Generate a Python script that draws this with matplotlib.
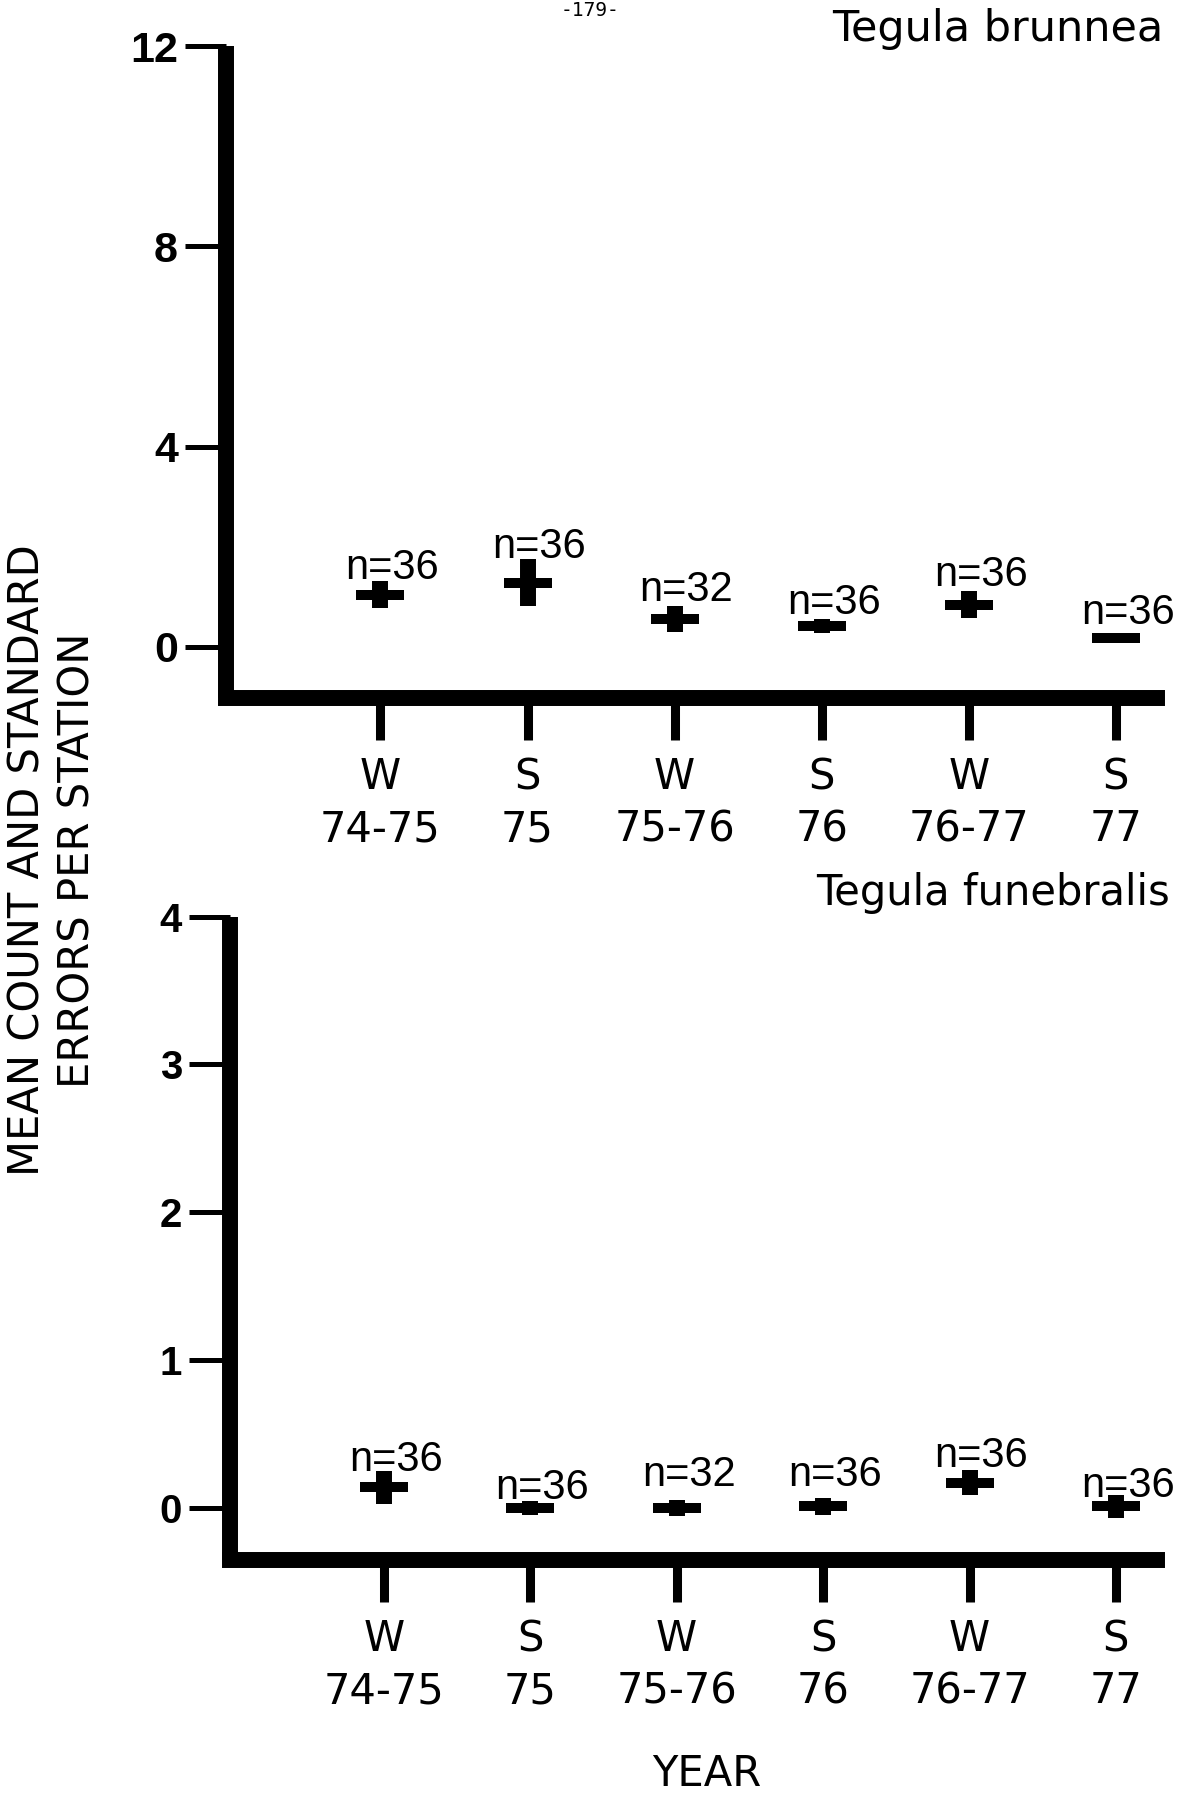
import matplotlib
matplotlib.use("Agg")
import matplotlib.pyplot as plt

# Sampling periods (winter / summer)
seasons = ["W\n74-75", "S\n75", "W\n75-76", "S\n76", "W\n76-77", "S\n77"]

# Tegula brunnea: mean count per station and standard error
brunnea_mean = [1.04, 1.28, 0.55, 0.42, 0.84, 0.18]
brunnea_se = [0.27, 0.47, 0.26, 0.14, 0.27, 0.08]
brunnea_n = [36, 36, 32, 36, 36, 36]

# Tegula funebralis: mean count per station and standard error
funebralis_mean = [0.14, 0.00, 0.00, 0.01, 0.17, 0.01]
funebralis_se = [0.11, 0.05, 0.055, 0.06, 0.085, 0.075]
funebralis_n = [36, 36, 32, 36, 36, 36]

W, H = 1188, 1796
fig = plt.figure(figsize=(W / 100, H / 100), dpi=100)

SANS = "DejaVu Sans"
HELV = "Liberation Sans"


def px_box(left, right, top, bottom):
    """Axes rectangle from pixel edges (top-left origin)."""
    return [left / W, 1 - bottom / H, (right - left) / W, (bottom - top) / H]


def draw_panel(ax, means, ses, ns, ylim, yticks, lifts, ytick_size):
    x = list(range(len(means)))
    ax.errorbar(x, means, yerr=ses, fmt="none", ecolor="black",
                elinewidth=11.5, capsize=0, zorder=3)
    ax.plot(x, means, linestyle="none", marker="_", markersize=35,
            markeredgewidth=7.2, color="black", zorder=4)
    for xi, m, s, n, lift in zip(x, means, ses, ns, lifts):
        ax.annotate(f"n={n}", xy=(xi, m + s), xytext=(12, lift),
                    textcoords="offset pixels", ha="center", va="baseline",
                    fontsize=30, family=HELV)

    ax.set_xlim(-1.05, 5.28)
    ax.set_ylim(*ylim)
    ax.set_xticks(x)
    ax.set_xticklabels(seasons, fontsize=30, family=SANS)
    for lbl in ax.get_xticklabels():
        lbl.set_linespacing(1.3)
    ax.set_yticks(yticks)
    ax.set_yticklabels([str(t) for t in yticks], fontsize=ytick_size,
                       family=HELV, fontweight="bold")

    ax.tick_params(axis="x", direction="out", length=30, width=6.5, pad=12)
    ax.tick_params(axis="y", direction="out", length=29.5, width=3.6, pad=5)

    for side in ("top", "right"):
        ax.spines[side].set_visible(False)
    for side in ("left", "bottom"):
        ax.spines[side].set_linewidth(11.5)
    # the bottom bar closes the corner; the left bar stops at the top tick
    ax.spines["left"].set_capstyle("butt")
    ax.spines["bottom"].set_capstyle("projecting")
    ax.patch.set_visible(False)


ax_top = fig.add_axes(px_box(226, 1157, 46, 698))
draw_panel(ax_top, brunnea_mean, brunnea_se, brunnea_n,
           (-1.02, 12), [0, 4, 8, 12], [2, 1, 5, 5, 5, 10], 31)

ax_bot = fig.add_axes(px_box(230, 1157, 916.5, 1560))
draw_panel(ax_bot, funebralis_mean, funebralis_se, funebralis_n,
           (-0.352, 4), [0, 1, 2, 3, 4], [0, 2, 14, 12, 3, -2], 29)

# Species names
fig.text(1163 / W, 1 - 41 / H, "Tegula brunnea", ha="right", va="baseline",
         fontsize=31, family=SANS)
fig.text(1170 / W, 1 - 905 / H, "Tegula funebralis", ha="right",
         va="baseline", fontsize=30, family=SANS)

# Shared axis titles
fig.text(52.5 / W, 1 - 860 / H, "MEAN COUNT AND STANDARD\nERRORS PER STATION",
         rotation=90, ha="center", va="center", fontsize=30, family=SANS,
         linespacing=1.25, multialignment="center")
fig.text(707 / W, 1 - 1786 / H, "YEAR", ha="center", va="baseline",
         fontsize=30, family=SANS)

# Page number at the top edge
fig.text(590 / W, 1 - 16 / H, "-179-", ha="center", va="baseline",
         fontsize=14, family="DejaVu Sans Mono")

fig.savefig("out.png", dpi=100)
